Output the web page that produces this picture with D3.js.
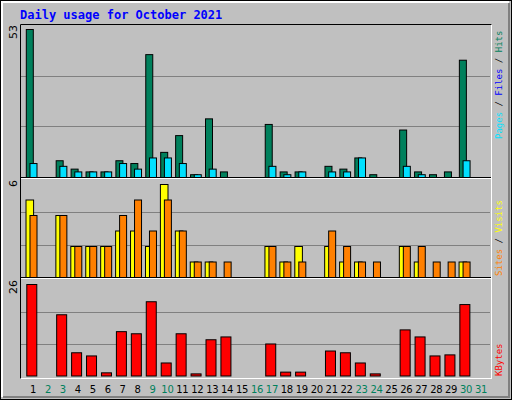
<!DOCTYPE html>
<html><head><meta charset="utf-8">
<script src="https://cdn.jsdelivr.net/npm/d3@7"></script>
<style>body{margin:0}</style></head>
<body><svg id="chart" width="512" height="400"></svg>
<script>
const days = d3.range(1, 32);
const weekendDays = [2, 3, 9, 10, 16, 17, 23, 24, 30, 31];
const hits  = [53,0,6,3,2,2,6,5,44,9,15,1,21,2,0,0,19,2,2,0,4,3,7,1,0,17,2,1,2,42,0];
const files = [5,0,4,2,2,2,5,3,7,7,5,1,3,0,0,0,4,1,2,0,2,2,7,0,0,4,1,0,0,6,0];
const visits = [5,0,4,2,2,2,3,3,2,6,3,1,1,0,0,0,2,1,2,0,2,1,1,0,0,2,1,0,0,1,0];
const sites  = [4,0,4,2,2,2,4,5,3,5,3,1,1,1,0,0,2,1,1,0,3,2,1,1,0,2,2,1,1,1,0];
const kbytes = [26,0,17.4,6.6,5.7,0.9,12.6,12,21.1,3.7,12,0.6,10.3,11.1,0,0,9.1,1.1,1.1,0,7.1,6.6,3.7,0.6,0,13.1,11.1,5.7,6,20.3,0];

const svg = d3.select("#chart");
// background + bevel
svg.append("rect").attr("width",512).attr("height",400).attr("fill","#c0c0c0");
svg.append("rect").attr("x",0.5).attr("y",0.5).attr("width",511).attr("height",399).attr("fill","none").attr("stroke","#000");
svg.append("path").attr("d","M2,397V2H509").attr("fill","none").attr("stroke","#fff").attr("stroke-width",2);
svg.append("path").attr("d","M3,397H509V3").attr("fill","none").attr("stroke","#808080").attr("stroke-width",2);

svg.append("text").attr("x",20).attr("y",19).text("Daily usage for October 2021")
    .attr("font-family","DejaVu Sans Mono").attr("font-weight","bold").attr("font-size",12).attr("fill","#0000ff");

const x = d3.scaleLinear().domain([1,31]).range([33,481]);

// plot frame
svg.append("rect").attr("x",20.5).attr("y",24.5).attr("width",471).attr("height",354).attr("fill","none").attr("stroke","#fff");
svg.append("path").attr("d","M20.5,378.5V24.5H491.5").attr("fill","none").attr("stroke","#000");

const panels = [
    {top:25, bottom:177, max:53, labelY:139, series:[[hits,"#00805c",-3.7,7],[files,"#00e0ff",0,7]],
     label:[["Pages","#00e0ff"],[" / ","#000"],["Files","#0000ff"],[" / ","#000"],["Hits","#00805c"]]},
    {top:180, bottom:277, max:6, labelY:276, series:[[visits,"#ffff00",-3.7,7.6],[sites,"#ff8000",0,7]],
     label:[["Sites","#ff8000"],[" / ","#000"],["Visits","#ffff00"]]},
    {top:280, bottom:375.5, max:26, labelY:376, series:[[kbytes,"#ff0000",-1.7,10]],
     label:[["KBytes","#ff0000"]]}
];

panels.forEach((p, i) => {
    const y = d3.scaleLinear().domain([0,p.max]).range([p.bottom, p.top+4]);
    const g = svg.append("g");
    if (i > 0) {
        g.append("line").attr("x1",21).attr("x2",491).attr("y1",p.top-2.5).attr("y2",p.top-2.5).attr("stroke","#000");
        g.append("line").attr("x1",21).attr("x2",491).attr("y1",p.top-1.5).attr("y2",p.top-1.5).attr("stroke","#fff");
    }
    [1/3, 2/3].forEach(f => {
        const gy = Math.round(p.bottom - (p.bottom - p.top) * f) + 0.5;
        g.append("line").attr("x1",21).attr("x2",490).attr("y1",gy).attr("y2",gy).attr("stroke","#808080");
    });
    p.series.forEach(([vals, col, off, w]) => {
        g.selectAll(null).data(days.filter(d => vals[d-1] > 0)).join("rect")
            .attr("x", d => x(d) + off - w/2 + 0.5)
            .attr("y", d => y(vals[d-1]) + 0.5)
            .attr("width", w)
            .attr("height", d => p.bottom - y(vals[d-1]))
            .attr("fill", col).attr("stroke","#000");
    });
    // max tick, rotated
    svg.append("text").attr("transform",`translate(17,${p.top}) rotate(-90)`)
        .attr("text-anchor","end").attr("font-family","DejaVu Sans").attr("font-size",11).text(p.max);
    // right label
    const t = svg.append("text").attr("transform",`translate(502,${p.labelY}) rotate(-90)`)
        .attr("font-family","DejaVu Sans Mono").attr("font-size",9);
    p.label.forEach(([s,c]) => t.append("tspan").attr("fill",c).text(s));
});

svg.append("g").selectAll("text").data(days).join("text")
    .attr("x", d => x(d)).attr("y", 393).attr("text-anchor","middle")
    .attr("font-family","DejaVu Sans").attr("font-size",10).attr("letter-spacing",-0.3)
    .attr("fill", d => weekendDays.includes(d) ? "#00805c" : "#000")
    .text(d => d);
</script></body></html>
